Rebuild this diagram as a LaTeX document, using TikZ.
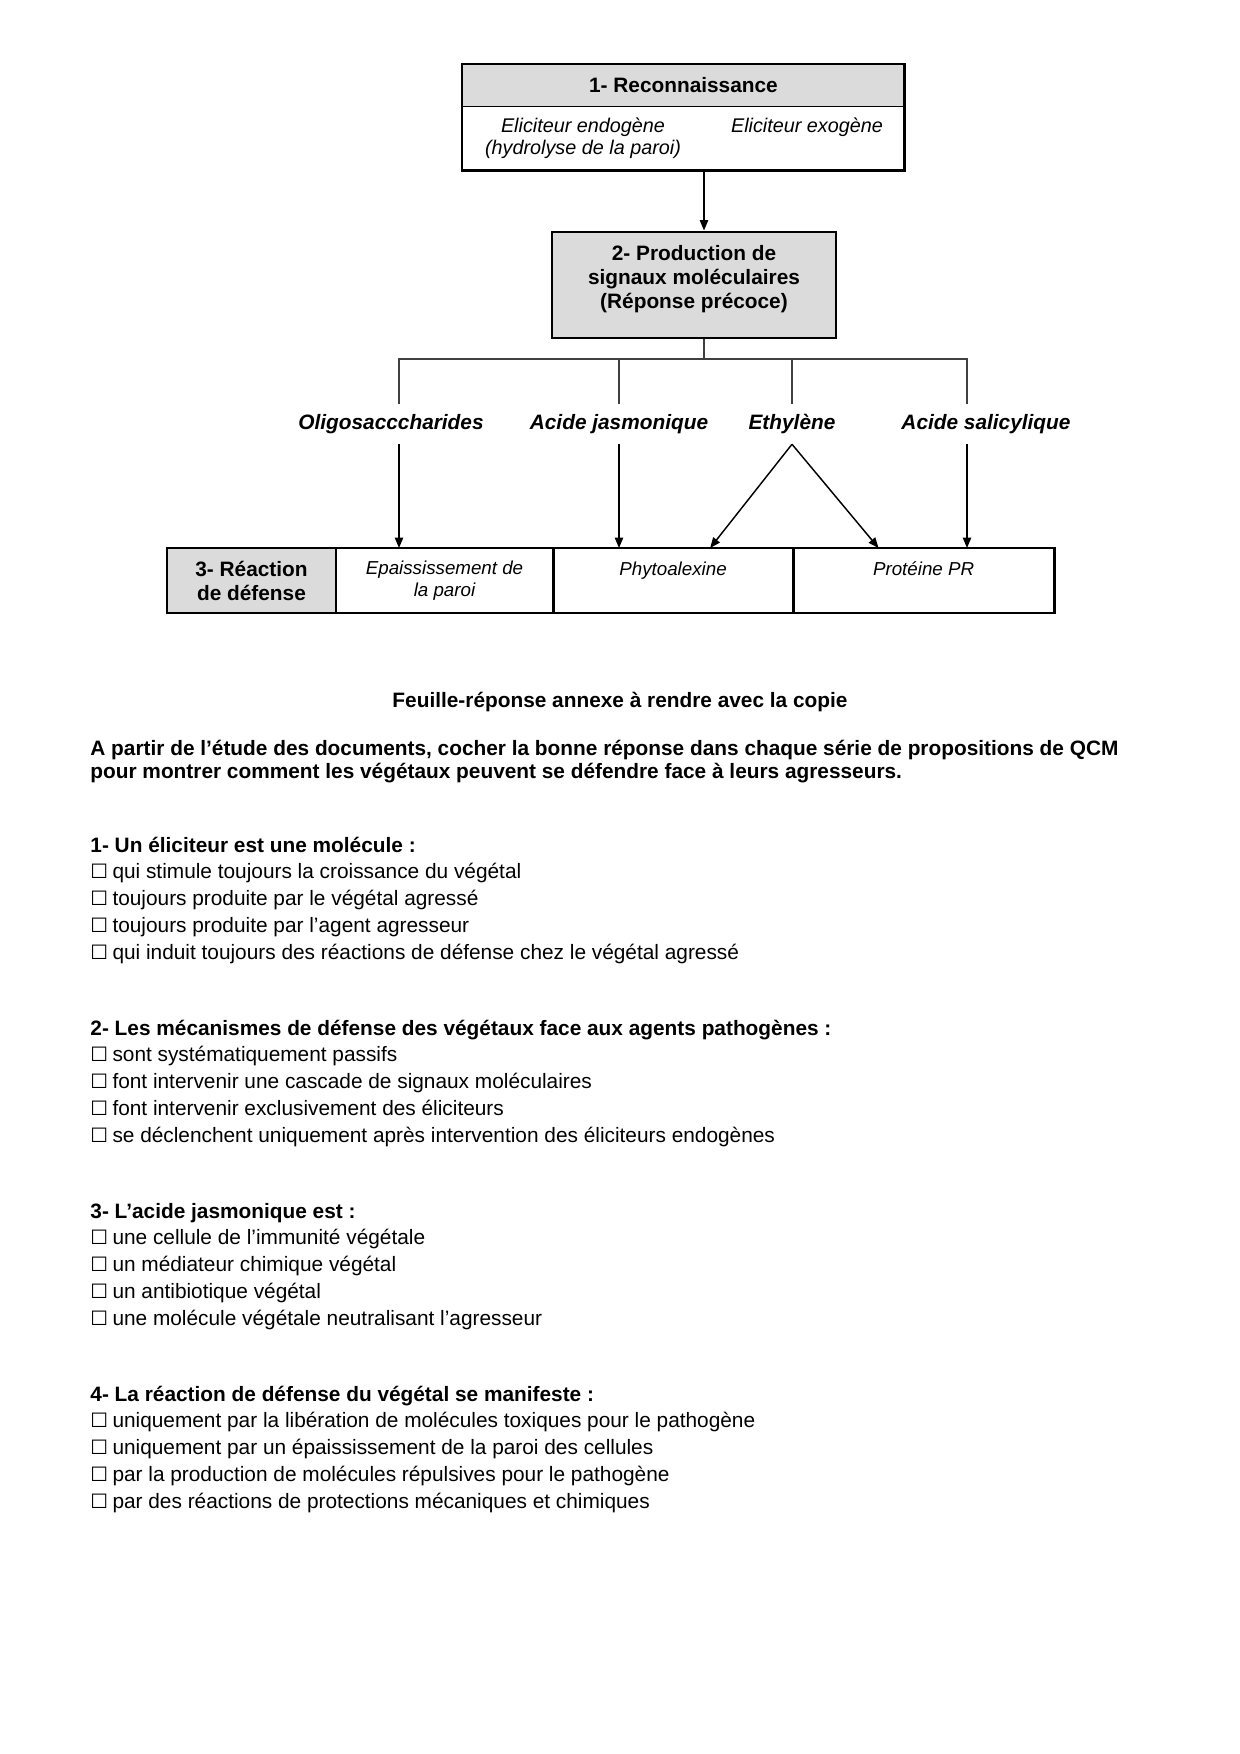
\documentclass[tikz,border=0pt]{standalone}
\usepackage{fontspec}
\setmainfont{Liberation Sans}
\newfontfamily\symb{DejaVu Sans}
\usetikzlibrary{arrows.meta, positioning}
\definecolor{gris}{gray}{0.86}
\newcommand{\boite}{\makebox[10.6pt][l]{\symb\fontsize{9.5}{9.5}\selectfont ☐}}

\begin{document}
\begin{tikzpicture}[x=0.48pt, y=-0.48pt]
  \tikzstyle{cadre} = [draw, line width=1.4pt, rectangle, fill=gris]
  \tikzstyle{titre} = [font=\bfseries\fontsize{10}{11.5}\selectfont, align=center]
  \tikzstyle{elic} = [font=\itshape\fontsize{9.5}{10.6}\selectfont, align=center, inner sep=0pt]
  \tikzstyle{signal} = [font=\bfseries\itshape\fontsize{10}{12}\selectfont, inner xsep=0pt, inner ysep=4.8pt]
  \tikzstyle{cellule} = [draw, line width=1.4pt, rectangle, minimum height=31.2pt, outer sep=0pt, inner sep=0pt, align=center]
  \tikzstyle{texte} = [font=\itshape\fontsize{9}{10.1}\selectfont, inner sep=0pt]
  \tikzstyle{fleche} = [-{Triangle[length=5pt,width=4pt]}, line width=0.7pt]
  \tikzstyle{trait} = [line width=0.6pt, black!75]
  \tikzstyle{ligne} = [font=\fontsize{10}{12}\selectfont, anchor=base west, inner sep=0pt]
  \tikzstyle{entete} = [ligne, font=\bfseries\fontsize{10}{12}\selectfont]

  \useasboundingbox (0,0) rectangle (1240,1754);

  % 1- Reconnaissance
  \node[titre, fill=gris, minimum width=212.2pt, minimum height=20.2pt, anchor=north west, inner sep=0pt] (rec) at (462,64) {1- Reconnaissance};
  \node[below=0pt of rec, minimum width=212.2pt, minimum height=30.2pt, inner sep=0pt] (rec2) {};
  \draw[line width=0.5pt] (rec.south west) -- (rec.south east);
  \draw[line width=1.4pt] (rec.north west) rectangle (rec2.south east);
  \node[elic] (endo) at (583,138) {Eliciteur endogène\\(hydrolyse de la paroi)};
  \node[elic] (exo) at (807,127) {Eliciteur exogène};

  % 2- Production
  \coordinate (axe) at (704,359);
  \node[cadre, minimum width=136.3pt, minimum height=50.9pt] (prod) at (694,285) {};
  \node[titre, inner sep=0pt] (prodtxt) at (694,279) {2- Production de\\signaux moléculaires\\(Réponse précoce)};
  \draw[fleche] (rec2.south -| axe) -- (prod.north -| axe);

  % signaux
  \coordinate (b1) at (399,359);
  \coordinate (b2) at (619,359);
  \coordinate (b3) at (792,359);
  \coordinate (b4) at (967,359);
  \node[signal] (oligo) at (391,424) {Oligosacccharides};
  \node[signal] (jasm) at (619,424) {Acide jasmonique};
  \node[signal] (ethy) at (792,424) {Ethylène};
  \node[signal] (sali) at (986,424) {Acide salicylique};
  \draw[trait] (prod.south -| axe) -- (axe);
  \draw[trait] (oligo.north -| b1) -- (b1) -- (b4) -- (sali.north -| b4);
  \draw[trait] (b2) -- (jasm.north -| b2);
  \draw[trait] (b3) -- (ethy.north);

  % 3- Reaction de defense
  \node[cellule, fill=gris, minimum width=81.1pt, anchor=north west, font=\bfseries\fontsize{10}{11.5}\selectfont] (c0) at (167,548) {3- Réaction\\de défense};
  \node[cellule, minimum width=104.2pt, right=0pt of c0, font=\itshape\fontsize{9}{10.3}\selectfont] (c1) {Epaississement de\\la paroi};
  \node[cellule, minimum width=115.2pt, right=0pt of c1] (c2) {};
  \node[cellule, minimum width=125.3pt, right=0pt of c2] (c3) {};
  \node[texte, below=6.5pt of c2.north] (phyto) {Phytoalexine};
  \node[texte, below=6.5pt of c3.north] (prot) {Protéine PR};

  \draw[fleche] (oligo.south -| b1) -- (c1.north -| b1);
  \draw[fleche] (jasm.south -| b2) -- (c2.north -| b2);
  \draw[fleche] (ethy.south) -- ([xshift=17.8pt]c2.north);
  \draw[fleche] (ethy.south) -- ([xshift=-21.6pt]c3.north);
  \draw[fleche] (sali.south -| b4) -- (c3.north -| b4);

  % feuille-reponse
  \node[entete, anchor=base] (feuille) at (620,707) {Feuille-réponse annexe à rendre avec la copie};
  \node[entete] (consigne1) at (90,755) {A partir de l’étude des documents, cocher la bonne réponse dans chaque série de propositions de QCM};
  \node[entete] (consigne2) at (90,778) {pour montrer comment les végétaux peuvent se défendre face à leurs agresseurs.};

  \node[entete] (q1) at (90,852) {1- Un éliciteur est une molécule :};
  \foreach \t [count=\i] in {qui stimule toujours la croissance du végétal, toujours produite par le végétal agressé, toujours produite par l’agent agresseur, qui induit toujours des réactions de défense chez le végétal agressé}
    \node[ligne] (q1-\i) at (90,{852+26.9*\i}) {\boite\t};

  \node[entete] (q2) at (90,1035) {2- Les mécanismes de défense des végétaux face aux agents pathogènes :};
  \foreach \t [count=\i] in {sont systématiquement passifs, font intervenir une cascade de signaux moléculaires, font intervenir exclusivement des éliciteurs, se déclenchent uniquement après intervention des éliciteurs endogènes}
    \node[ligne] (q2-\i) at (90,{1035+26.9*\i}) {\boite\t};

  \node[entete] (q3) at (90,1218) {3- L’acide jasmonique est :};
  \foreach \t [count=\i] in {une cellule de l’immunité végétale, un médiateur chimique végétal, un antibiotique végétal, une molécule végétale neutralisant l’agresseur}
    \node[ligne] (q3-\i) at (90,{1218+26.9*\i}) {\boite\t};

  \node[entete] (q4) at (90,1401) {4- La réaction de défense du végétal se manifeste :};
  \foreach \t [count=\i] in {uniquement par la libération de molécules toxiques pour le pathogène, uniquement par un épaississement de la paroi des cellules, par la production de molécules répulsives pour le pathogène, par des réactions de protections mécaniques et chimiques}
    \node[ligne] (q4-\i) at (90,{1401+26.9*\i}) {\boite\t};
\end{tikzpicture}
\end{document}
